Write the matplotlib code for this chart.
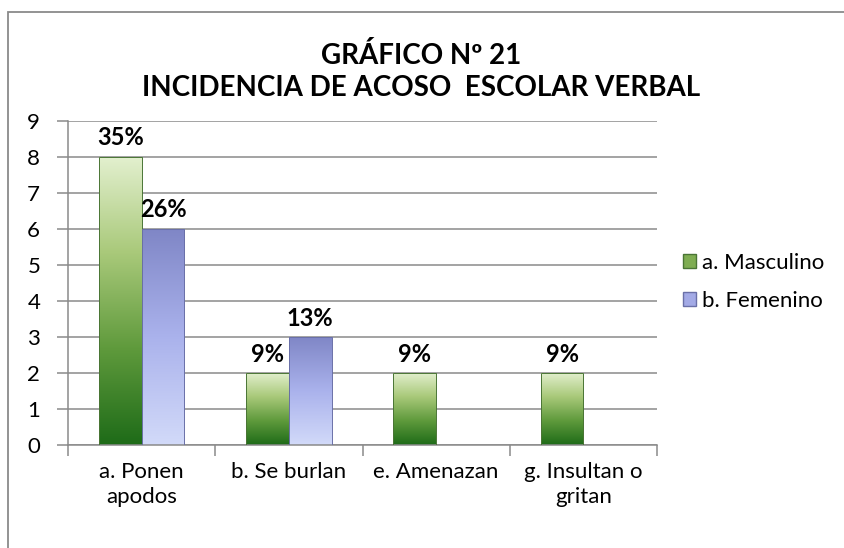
import numpy as np
import matplotlib
matplotlib.use("Agg")
import matplotlib.pyplot as plt
from matplotlib.colors import LinearSegmentedColormap
from matplotlib.patches import Patch, Rectangle

plt.rcParams['font.family'] = ['Lato', 'DejaVu Sans']

categorias = ["a. Ponen\napodos", "b. Se burlan", "e. Amenazan", "g. Insultan o\ngritan"]
masculino = [8, 2, 2, 2]
femenino = [6, 3, 0, 0]
pct_masc = ["35%", "9%", "9%", "9%"]
pct_fem = ["26%", "13%", "", ""]
series = ["a. Masculino", "b. Femenino"]

# gradientes tipo Excel
cmap_verde = LinearSegmentedColormap.from_list("verde", ["#1e6b18", "#5f9a3c", "#a9c97a", "#e3f0cf"])
cmap_azul = LinearSegmentedColormap.from_list("azul", ["#d2daf9", "#aab2ec", "#7f86c6"])

fig = plt.figure(figsize=(8.44, 5.48), dpi=100)
ax = fig.add_axes([68/844, 1-445/548, (657-68)/844, (445-120.5)/548])

# marco del grafico
fig.patches.append(Rectangle((8/844, -0.1), 1.2, 1-12/548+0.1, transform=fig.transFigure,
                             fill=False, edgecolor="#8a8a8a", linewidth=1.3))

x = np.arange(len(categorias))
w = 0.29
grad = np.linspace(0, 1, 256).reshape(-1, 1)

def barras(xs, vals, cmap, edge):
    rects = ax.bar(xs, vals, w, color="none", edgecolor=edge, linewidth=0.7, zorder=3)
    for r, v in zip(rects, vals):
        if v == 0:
            continue
        x0, y0 = r.get_x(), r.get_y()
        im = ax.imshow(grad, extent=[x0, x0 + r.get_width(), y0, y0 + r.get_height()],
                       origin="lower", aspect="auto", cmap=cmap, zorder=2)
        im.set_clip_path(r)
    return rects

r1 = barras(x - w/2, masculino, cmap_verde, "#4a7535")
r2 = barras(x + w/2, femenino, cmap_azul, "#6a70a8")

for xs, vals, labs in [(x - w/2, masculino, pct_masc), (x + w/2, femenino, pct_fem)]:
    for xi, v, t in zip(xs, vals, labs):
        if t:
            ax.text(xi, v + 0.2, t, ha="center", va="bottom", fontsize=17, fontweight="bold", zorder=5)

ax.set_xlim(-0.5, len(categorias) - 0.5)
ax.set_ylim(0, 9)
ax.set_yticks(range(10))
ax.yaxis.grid(True, color="#8a8a8a", linewidth=1.1, zorder=0)
ax.set_axisbelow(True)
ax.set_xticks(x)
ax.set_xticklabels(categorias, fontsize=16, linespacing=1.35)
ax.set_xticks(np.arange(-0.5, len(categorias)), minor=True)
ax.tick_params(axis="x", which="major", length=0, pad=12)
ax.tick_params(axis="x", which="minor", length=8, color="#8a8a8a", width=1.1)
ax.tick_params(axis="y", length=8, color="#8a8a8a", width=1.1, labelsize=16, pad=12)
for s in ["top", "right"]:
    ax.spines[s].set_visible(False)
for s in ["left", "bottom"]:
    ax.spines[s].set_color("#8a8a8a")
    ax.spines[s].set_linewidth(1.1)

fig.text(0.499, 1-55/548, "GRÁFICO Nº 21", ha="center", va="center", fontsize=20, fontweight="bold")
fig.text(0.499, 1-88/548, "INCIDENCIA DE ACOSO  ESCOLAR VERBAL", ha="center", va="center",
         fontsize=20, fontweight="bold")

handles = [Patch(facecolor="#7fad52", edgecolor="#4a7535"), Patch(facecolor="#a3aae6", edgecolor="#6a70a8")]
fig.legend(handles, series, loc="center left", bbox_to_anchor=(683/844, 1-282/548), frameon=False,
           borderaxespad=0, borderpad=0,
           fontsize=16, handlelength=0.6, handleheight=0.6, handletextpad=0.25, labelspacing=0.8)

fig.savefig("out.png", dpi=100)
